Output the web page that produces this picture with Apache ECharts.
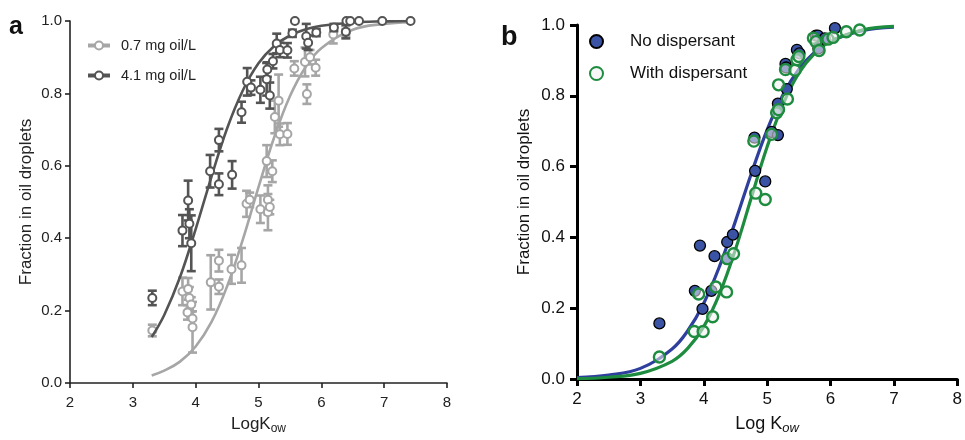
<!DOCTYPE html>
<html><head><meta charset="utf-8">
<script src="https://cdn.jsdelivr.net/npm/echarts@6/dist/echarts.min.js"></script>
<style>html,body{margin:0;padding:0;background:#fff}#c{width:965px;height:440px}</style>
</head><body><div id="c"></div>
<script>
// ---- Panel a data: [LogKow, fraction, error] ----
const seriesA1Name = '0.7 mg oil/L';
const seriesA2Name = '4.1 mg oil/L';
const pointsA1 = [
  [3.31,0.145,0.016],[3.79,0.253,0.038],[3.88,0.260,0.03],[3.87,0.195,0.02],[3.90,0.235,0.03],
  [3.93,0.217,0.02],[3.95,0.178,0.02],[3.95,0.154,0.07],[4.24,0.278,0.075],[4.37,0.338,0.03],
  [4.37,0.266,0.02],[4.57,0.314,0.04],[4.73,0.325,0.048],[4.81,0.495,0.036],[4.86,0.506,0.02],
  [5.03,0.480,0.038],[5.15,0.506,0.04],[5.15,0.472,0.05],[5.18,0.486,0.02],[5.13,0.613,0.044],
  [5.22,0.585,0.03],[5.26,0.735,0.045],[5.32,0.780,0.072],[5.34,0.687,0.03],[5.46,0.688,0.03],
  [5.57,0.869,0.02],[5.74,0.887,0.04],[5.82,0.900,0.02],[5.77,0.798,0.027],[5.91,0.871,0.022],
  [6.19,0.963,0.025],[6.39,0.968,0.01]
];
const pointsA2 = [
  [3.31,0.235,0.02],[3.79,0.421,0.043],[3.88,0.504,0.055],[3.93,0.386,0.077],[3.90,0.44,0.04],
  [4.23,0.585,0.045],[4.37,0.671,0.031],[4.37,0.549,0.03],[4.58,0.575,0.038],[4.73,0.748,0.029],
  [4.82,0.832,0.038],[4.88,0.816,0.02],[5.03,0.810,0.036],[5.13,0.839,0.045],[5.18,0.794,0.036],
  [5.14,0.866,0.02],[5.23,0.889,0.02],[5.29,0.938,0.027],[5.34,0.920,0.02],[5.46,0.919,0.02],
  [5.54,0.966,0.01],[5.58,1.0,0],[5.76,0.958,0.034],[5.79,0.940,0.02],[5.92,0.968,0.01],
  [6.20,0.982,0.01],[6.39,0.970,0.018],[6.40,1.0,0],[6.46,1.0,0],[6.60,1.0,0],[6.97,1.0,0],[7.42,1.0,0]
];
// fitted curves
const curveXA = [3.3,3.5,3.75,4,4.25,4.5,4.75,5,5.25,5.5,5.75,6,6.5,7,7.4];
const curveA1 = [0.021,0.034,0.059,0.101,0.168,0.267,0.396,0.541,0.679,0.792,0.873,0.925,0.976,0.992,0.997];
const curveA2 = [0.127,0.188,0.292,0.425,0.569,0.703,0.808,0.883,0.931,0.960,0.977,0.987,0.996,0.999,1.000];

// ---- Panel b data: [LogKow, fraction] ----
const seriesB1Name = 'No dispersant';
const seriesB2Name = 'With dispersant';
const pointsB1 = [
  [3.30,0.157],[3.94,0.377],[3.86,0.249],[3.98,0.198],[4.12,0.249],[4.17,0.347],[4.37,0.387],
  [4.46,0.408],[4.37,0.340],[4.80,0.682],[4.81,0.588],[4.97,0.558],[5.07,0.698],[5.17,0.689],
  [5.17,0.778],[5.18,0.760],[5.31,0.819],[5.29,0.890],[5.30,0.880],[5.47,0.930],[5.51,0.920],
  [5.77,0.970],[5.80,0.970],[5.81,0.934],[5.91,0.962],[6.07,0.991]
];
const pointsB2 = [
  [3.30,0.062],[3.85,0.134],[3.99,0.134],[3.92,0.240],[4.19,0.260],[4.14,0.176],[4.36,0.246],
  [4.37,0.340],[4.47,0.354],[4.79,0.672],[4.82,0.525],[4.97,0.507],[5.07,0.691],[5.15,0.752],
  [5.18,0.761],[5.18,0.831],[5.29,0.874],[5.32,0.791],[5.44,0.872],[5.47,0.902],[5.50,0.911],
  [5.73,0.963],[5.77,0.953],[5.82,0.928],[5.96,0.960],[6.04,0.965],[6.25,0.981],[6.46,0.986]
];
const curveXB = [2,2.5,3,3.5,3.75,4,4.25,4.5,4.75,5,5.25,5.5,5.75,6,6.5,7];
const curveB1 = [0.004,0.011,0.030,0.085,0.137,0.214,0.319,0.446,0.580,0.704,0.803,0.875,0.923,0.954,0.984,0.994];
const curveB2 = [0.001,0.005,0.016,0.050,0.087,0.148,0.241,0.366,0.512,0.656,0.776,0.864,0.920,0.954,0.986,0.996];

// axis ranges
const xRange = [2, 8, 1];
const yRange = [0, 1, 0.2];

const FONT = 'Liberation Sans, Arial, sans-serif';
const cA1 = '#a6a6a6', cA2 = '#545454';
const cB1 = '#3a53a4', cB1line = '#2f3f9e', cB2 = '#1d8c3f';

const zip = (xs, ys) => xs.map((x, i) => [x, ys[i]]);
const errData = pts => pts.filter(p => p[2] > 0).map(p => [p[0], p[1] - p[2], p[1] + p[2]]);

function errRender(color) {
  return function (params, api) {
    const x = api.value(0), lo = api.value(1), hi = api.value(2);
    const a = api.coord([x, hi]), b = api.coord([x, lo]);
    const w = 4.5;
    const st = { stroke: color, lineWidth: 2.6 };
    return { type: 'group', children: [
      { type: 'line', shape: { x1: a[0], y1: a[1], x2: b[0], y2: b[1] }, style: st },
      { type: 'line', shape: { x1: a[0] - w, y1: a[1], x2: a[0] + w, y2: a[1] }, style: st },
      { type: 'line', shape: { x1: b[0] - w, y1: b[1], x2: b[0] + w, y2: b[1] }, style: st }
    ]};
  };
}

const chart = echarts.init(document.getElementById('c'), null, { renderer: 'canvas' });

const axisA = { color: '#222', width: 1.6 };
const axisB = { color: '#000', width: 3 };

const option = {
  animation: false,
  textStyle: { fontFamily: FONT },
  grid: [
    { left: 70, top: 21, width: 377, height: 368 },
    { left: 577, top: 25, width: 387, height: 356 }
  ],
  xAxis: [
    { gridIndex: 0, type: 'value', min: xRange[0], max: xRange[1], interval: xRange[2],
      axisLine: { lineStyle: axisA }, axisTick: { length: 5, lineStyle: axisA },
      splitLine: { show: false },
      axisLabel: { color: '#222', fontSize: 15, margin: 12, fontFamily: FONT },
      name: 'LogK{s|ow}', nameLocation: 'middle', nameGap: 31,
      nameTextStyle: { color: '#222', fontSize: 17, fontFamily: FONT,
        rich: { s: { fontSize: 12, padding: [9, 0, 0, 0], color: '#222', fontFamily: FONT } } } },
    { gridIndex: 1, type: 'value', min: xRange[0], max: xRange[1], interval: xRange[2],
      axisLine: { lineStyle: axisB }, axisTick: { length: 7, lineStyle: axisB },
      splitLine: { show: false },
      axisLabel: { color: '#111', fontSize: 17, margin: 12, fontFamily: FONT },
      name: 'Log K{s|ow}', nameLocation: 'middle', nameGap: 34,
      nameTextStyle: { color: '#111', fontSize: 18, fontFamily: FONT,
        rich: { s: { fontSize: 13, fontStyle: 'italic', padding: [9, 0, 0, 0], color: '#111', fontFamily: FONT } } } }
  ],
  yAxis: [
    { gridIndex: 0, type: 'value', min: yRange[0], max: yRange[1], interval: yRange[2],
      axisLine: { lineStyle: axisA }, axisTick: { length: 5, lineStyle: axisA },
      splitLine: { show: false },
      axisLabel: { color: '#222', fontSize: 15, margin: 8, fontFamily: FONT, formatter: v => v.toFixed(1) },
      name: 'Fraction in oil droplets', nameLocation: 'middle', nameGap: 35,
      nameTextStyle: { color: '#222', fontSize: 17, fontFamily: FONT } },
    { gridIndex: 1, type: 'value', min: yRange[0], max: yRange[1], interval: yRange[2],
      axisLine: { lineStyle: axisB }, axisTick: { length: 7, lineStyle: axisB },
      splitLine: { show: false },
      axisLabel: { color: '#111', fontSize: 17, margin: 12, fontFamily: FONT, formatter: v => v.toFixed(1) },
      name: 'Fraction in oil droplets', nameLocation: 'middle', nameGap: 44,
      nameTextStyle: { color: '#111', fontSize: 17, fontFamily: FONT, padding: [0, 0, 0, 20] } }
  ],
  legend: [
    { orient: 'vertical', left: 86, top: 38, padding: 0, itemWidth: 22, itemHeight: 10, itemGap: 15,
      data: [seriesA1Name, seriesA2Name],
      lineStyle: { width: 4, opacity: 1 },
      textStyle: { color: '#222', fontSize: 14.5, fontFamily: FONT, padding: [0, 0, 0, 6] } },
    { orient: 'vertical', left: 589, top: 33, padding: 0, itemWidth: 13, itemHeight: 13, itemGap: 15,
      data: [seriesB1Name, seriesB2Name],
      textStyle: { color: '#111', fontSize: 17, fontFamily: FONT, padding: [0, 0, 0, 22] } }
  ],
  graphic: [
    { type: 'text', left: 9, top: 15, style: { text: 'a', font: 'bold 25px ' + FONT, fill: '#111' } },
    { type: 'text', left: 501, top: 24, style: { text: 'b', font: 'bold 27px ' + FONT, fill: '#111' } }
  ],
  series: [
    // panel a
    { type: 'line', name: 'fitA1', xAxisIndex: 0, yAxisIndex: 0, data: zip(curveXA, curveA1),
      smooth: 0.4, showSymbol: false, symbol: 'none', lineStyle: { color: cA1, width: 2.6 }, z: 2 },
    { type: 'custom', name: 'errA1', xAxisIndex: 0, yAxisIndex: 0, data: errData(pointsA1),
      encode: { x: 0, y: [1, 2] }, renderItem: errRender(cA1), z: 3 },
    { type: 'line', name: seriesA1Name, xAxisIndex: 0, yAxisIndex: 0, data: pointsA1.map(p => [p[0], p[1]]),
      color: cA1, symbol: 'emptyCircle', symbolSize: 8, showAllSymbol: true,
      itemStyle: { color: cA1, borderWidth: 1.8 }, lineStyle: { opacity: 0, width: 0 }, z: 4 },
    { type: 'line', name: 'fitA2', xAxisIndex: 0, yAxisIndex: 0, data: zip(curveXA, curveA2),
      smooth: 0.4, showSymbol: false, symbol: 'none', lineStyle: { color: cA2, width: 2.6 }, z: 5 },
    { type: 'custom', name: 'errA2', xAxisIndex: 0, yAxisIndex: 0, data: errData(pointsA2),
      encode: { x: 0, y: [1, 2] }, renderItem: errRender(cA2), z: 6 },
    { type: 'line', name: seriesA2Name, xAxisIndex: 0, yAxisIndex: 0, data: pointsA2.map(p => [p[0], p[1]]),
      color: cA2, symbol: 'emptyCircle', symbolSize: 8, showAllSymbol: true,
      itemStyle: { color: cA2, borderWidth: 1.8 }, lineStyle: { opacity: 0, width: 0 }, z: 7 },
    // panel b
    { type: 'line', name: 'fitB1', xAxisIndex: 1, yAxisIndex: 1, data: zip(curveXB, curveB1),
      smooth: 0.4, showSymbol: false, symbol: 'none', lineStyle: { color: cB1line, width: 3.2 }, z: 2 },
    { type: 'line', name: 'fitB2', xAxisIndex: 1, yAxisIndex: 1, data: zip(curveXB, curveB2),
      smooth: 0.4, showSymbol: false, symbol: 'none', lineStyle: { color: cB2, width: 3.2 }, z: 3 },
    { type: 'scatter', name: seriesB1Name, xAxisIndex: 1, yAxisIndex: 1, data: pointsB1,
      symbol: 'circle', symbolSize: 11,
      itemStyle: { color: cB1, borderColor: '#000', borderWidth: 1.3, opacity: 1 }, z: 4 },
    { type: 'scatter', name: seriesB2Name, xAxisIndex: 1, yAxisIndex: 1, data: pointsB2,
      symbol: 'circle', symbolSize: 11,
      itemStyle: { color: 'rgba(240,240,240,0.55)', borderColor: cB2, borderWidth: 2.4, opacity: 1 }, z: 5 }
  ]
};
chart.setOption(option);
</script></body></html>
